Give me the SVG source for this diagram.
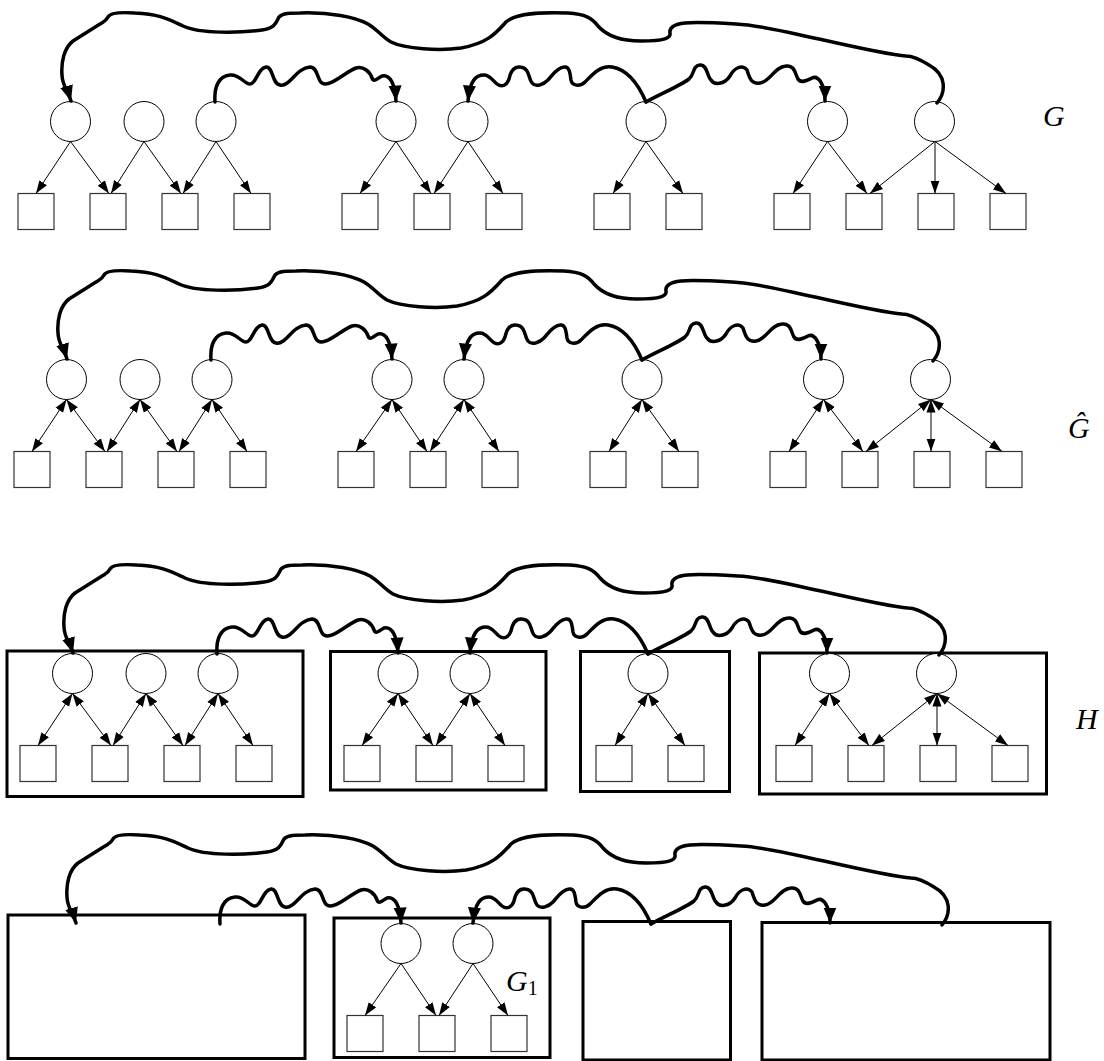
<svg xmlns="http://www.w3.org/2000/svg" xmlns:xlink="http://www.w3.org/1999/xlink" width="1104" height="1061" viewBox="0 0 1104 1061">
<defs>
<style>
.c{fill:#fff;stroke:#000;stroke-width:1}
.s{fill:#fff;stroke:#333;stroke-width:1.2}
.e{fill:none;stroke:#000;stroke-width:1;marker-end:url(#ah)}
.b{fill:none;stroke:#000;stroke-width:1;marker-start:url(#ah);marker-end:url(#ah)}
.w{fill:none;stroke:#000;stroke-width:3.5;stroke-linecap:round;stroke-linejoin:round;marker-end:url(#AH)}
.box{fill:none;stroke:#000;stroke-width:3}
.lbl{font-family:"Liberation Serif",serif;font-style:italic;font-size:30px;fill:#000}
.sub{font-style:normal;font-size:20px}
</style>
<marker id="ah" markerUnits="userSpaceOnUse" viewBox="0 0 14 10" markerWidth="14" markerHeight="10" refX="13" refY="5" orient="auto-start-reverse"><path d="M0,0.5 L13,5 L0,9.5 z" fill="#000"/></marker>
<marker id="AH" markerUnits="userSpaceOnUse" viewBox="0 0 16 14" markerWidth="16" markerHeight="14" refX="15.5" refY="7" orient="auto"><path d="M0,0.5 L15.5,7 L0,13.5 z" fill="#000"/></marker>
<path id="big" class="w" d="M937,103 C946,92 947,75 929,65 C921,60 913,56 906,56 C890,55 850,46 819,39 C790,33 760,25 736,24 C718,23 695,22 685,23 C674,24 669,28 670,33 C671,38 665,41 641,41 C620,41 606,35 598,26 C592,18 585,14 568,13 C540,12 516,13 506,22 C496,33 488,43 461,48 C440,51 405,49 391,42 C382,37 378,30 368,24 C355,17 330,12 300,13 C290,13 283,13 279,17 C276,22 276,28 262,30 C240,33 200,34 183,26 C170,20 160,14 135,13 C120,12 110,13 108,17 C106,21 105,21 100,24 L73,41 C64,48 61,62 62,75 C62,85 68,91 71,101"/>
<path id="w1" class="w" d="M215,102 C214,88 218,76 230,75 C240,74 244,84 250,84 C256,84 258,68 266,67 C273,66 272,84 280,85 C290,87 296,68 310,67 C318,67 317,80 322,83 C330,88 345,72 356,68 C364,66 370,72 372,78 C374,83 378,78 382,76 C390,74 395,84 396,101"/>
<path id="w2" class="w" d="M646,102 C640,88 630,70 612,67 C600,65 592,75 585,82 C580,87 572,86 571,80 C570,72 569,66 564,67 C556,68 552,76 548,80 C544,84 536,88 532,83 C528,78 530,68 520,67 C512,66 510,74 509,79 C507,85 502,88 497,84 C492,80 490,75 484,75 C476,75 470,80 468,101"/>
<path id="w3" class="w" d="M646,102 C660,94 680,86 689,79 C695,74 692,66 700,65 C707,64 707,76 711,80 C714,85 724,85 730,76 C734,68 742,64 747,70 C750,80 752,84 760,83 C770,82 774,67 786,66 C795,65 795,74 798,79 C801,84 808,80 812,78 C818,75 825,84 825,101"/>
</defs>
<rect width="1104" height="1061" fill="#fff"/>

<!-- Panel G -->
<g id="panel-G">
<g id="G-nodes">
<g id="G-c1"><circle class="c" cx="70.5" cy="121.5" r="20"/></g>
<g id="G-c2"><circle class="c" cx="144" cy="121.5" r="20"/></g>
<g id="G-c3"><circle class="c" cx="216" cy="121.5" r="20"/></g>
<g id="G-c4"><circle class="c" cx="396" cy="121.5" r="20"/></g>
<g id="G-c5"><circle class="c" cx="468" cy="121.5" r="20"/></g>
<g id="G-c6"><circle class="c" cx="646" cy="121.5" r="20"/></g>
<g id="G-c7"><circle class="c" cx="827.5" cy="121.5" r="20"/></g>
<g id="G-c8"><circle class="c" cx="934.5" cy="121.5" r="20"/></g>
<g id="G-s1"><rect class="s" x="18" y="193.5" width="36" height="36"/></g>
<g id="G-s2"><rect class="s" x="90" y="193.5" width="36" height="36"/></g>
<g id="G-s3"><rect class="s" x="162" y="193.5" width="36" height="36"/></g>
<g id="G-s4"><rect class="s" x="234" y="193.5" width="36" height="36"/></g>
<g id="G-s5"><rect class="s" x="342" y="193.5" width="36" height="36"/></g>
<g id="G-s6"><rect class="s" x="414" y="193.5" width="36" height="36"/></g>
<g id="G-s7"><rect class="s" x="486" y="193.5" width="36" height="36"/></g>
<g id="G-s8"><rect class="s" x="594" y="193.5" width="36" height="36"/></g>
<g id="G-s9"><rect class="s" x="666" y="193.5" width="36" height="36"/></g>
<g id="G-s10"><rect class="s" x="774" y="193.5" width="36" height="36"/></g>
<g id="G-s11"><rect class="s" x="846" y="193.5" width="36" height="36"/></g>
<g id="G-s12"><rect class="s" x="918" y="193.5" width="36" height="36"/></g>
<g id="G-s13"><rect class="s" x="990" y="193.5" width="36" height="36"/></g>
</g>
<g id="G-connectors">
<line class="e" x1="70.5" y1="141.5" x2="36" y2="193.5"/>
<line class="e" x1="70.5" y1="141.5" x2="109" y2="193.5"/>
<line class="e" x1="144" y1="141.5" x2="111" y2="193.5"/>
<line class="e" x1="144" y1="141.5" x2="181" y2="193.5"/>
<line class="e" x1="216" y1="141.5" x2="183" y2="193.5"/>
<line class="e" x1="216" y1="141.5" x2="251" y2="193.5"/>
<line class="e" x1="396" y1="141.5" x2="360" y2="193.5"/>
<line class="e" x1="396" y1="141.5" x2="431" y2="193.5"/>
<line class="e" x1="468" y1="141.5" x2="434" y2="193.5"/>
<line class="e" x1="468" y1="141.5" x2="503" y2="193.5"/>
<line class="e" x1="646" y1="141.5" x2="613" y2="193.5"/>
<line class="e" x1="646" y1="141.5" x2="683" y2="193.5"/>
<line class="e" x1="827.5" y1="141.5" x2="793" y2="193.5"/>
<line class="e" x1="827.5" y1="141.5" x2="867" y2="193.5"/>
<line class="e" x1="935" y1="141.5" x2="870" y2="193.5"/>
<line class="e" x1="935" y1="141.5" x2="935" y2="193.5"/>
<line class="e" x1="935" y1="141.5" x2="1006" y2="193.5"/>
<use xlink:href="#big"/>
<use xlink:href="#w1"/>
<use xlink:href="#w2"/>
<use xlink:href="#w3"/>
</g>
</g>

<!-- Panel G hat -->
<g id="panel-Ghat" transform="translate(-4,258)">
<g id="Gh-nodes">
<g id="Gh-c1"><circle class="c" cx="70.5" cy="121.5" r="20"/></g>
<g id="Gh-c2"><circle class="c" cx="144" cy="121.5" r="20"/></g>
<g id="Gh-c3"><circle class="c" cx="216" cy="121.5" r="20"/></g>
<g id="Gh-c4"><circle class="c" cx="396" cy="121.5" r="20"/></g>
<g id="Gh-c5"><circle class="c" cx="468" cy="121.5" r="20"/></g>
<g id="Gh-c6"><circle class="c" cx="646" cy="121.5" r="20"/></g>
<g id="Gh-c7"><circle class="c" cx="827.5" cy="121.5" r="20"/></g>
<g id="Gh-c8"><circle class="c" cx="934.5" cy="121.5" r="20"/></g>
<g id="Gh-s1"><rect class="s" x="18" y="193.5" width="36" height="36"/></g>
<g id="Gh-s2"><rect class="s" x="90" y="193.5" width="36" height="36"/></g>
<g id="Gh-s3"><rect class="s" x="162" y="193.5" width="36" height="36"/></g>
<g id="Gh-s4"><rect class="s" x="234" y="193.5" width="36" height="36"/></g>
<g id="Gh-s5"><rect class="s" x="342" y="193.5" width="36" height="36"/></g>
<g id="Gh-s6"><rect class="s" x="414" y="193.5" width="36" height="36"/></g>
<g id="Gh-s7"><rect class="s" x="486" y="193.5" width="36" height="36"/></g>
<g id="Gh-s8"><rect class="s" x="594" y="193.5" width="36" height="36"/></g>
<g id="Gh-s9"><rect class="s" x="666" y="193.5" width="36" height="36"/></g>
<g id="Gh-s10"><rect class="s" x="774" y="193.5" width="36" height="36"/></g>
<g id="Gh-s11"><rect class="s" x="846" y="193.5" width="36" height="36"/></g>
<g id="Gh-s12"><rect class="s" x="918" y="193.5" width="36" height="36"/></g>
<g id="Gh-s13"><rect class="s" x="990" y="193.5" width="36" height="36"/></g>
</g>
<g id="Gh-connectors">
<line class="b" x1="70.5" y1="141.5" x2="36" y2="193.5"/>
<line class="b" x1="70.5" y1="141.5" x2="109" y2="193.5"/>
<line class="b" x1="144" y1="141.5" x2="111" y2="193.5"/>
<line class="b" x1="144" y1="141.5" x2="181" y2="193.5"/>
<line class="b" x1="216" y1="141.5" x2="183" y2="193.5"/>
<line class="b" x1="216" y1="141.5" x2="251" y2="193.5"/>
<line class="b" x1="396" y1="141.5" x2="360" y2="193.5"/>
<line class="b" x1="396" y1="141.5" x2="431" y2="193.5"/>
<line class="b" x1="468" y1="141.5" x2="434" y2="193.5"/>
<line class="b" x1="468" y1="141.5" x2="503" y2="193.5"/>
<line class="b" x1="646" y1="141.5" x2="613" y2="193.5"/>
<line class="b" x1="646" y1="141.5" x2="683" y2="193.5"/>
<line class="b" x1="827.5" y1="141.5" x2="793" y2="193.5"/>
<line class="b" x1="827.5" y1="141.5" x2="867" y2="193.5"/>
<line class="b" x1="935" y1="141.5" x2="870" y2="193.5"/>
<line class="b" x1="935" y1="141.5" x2="935" y2="193.5"/>
<line class="b" x1="935" y1="141.5" x2="1006" y2="193.5"/>
<use xlink:href="#big"/>
<use xlink:href="#w1"/>
<use xlink:href="#w2"/>
<use xlink:href="#w3"/>
</g>
</g>

<!-- Panel H -->
<g id="panel-H-boxes">
<g id="H-box1"><rect class="box" x="7" y="651" width="296" height="145.5"/></g>
<g id="H-box2"><rect class="box" x="330.5" y="651.5" width="215.5" height="138.5"/></g>
<g id="H-box3"><rect class="box" x="580.5" y="651.5" width="149" height="140"/></g>
<g id="H-box4"><rect class="box" x="759.5" y="653" width="287" height="141"/></g>
</g>
<g id="panel-H" transform="translate(2,552)">
<g id="H-nodes">
<g id="H-c1"><circle class="c" cx="70.5" cy="121.5" r="20"/></g>
<g id="H-c2"><circle class="c" cx="144" cy="121.5" r="20"/></g>
<g id="H-c3"><circle class="c" cx="216" cy="121.5" r="20"/></g>
<g id="H-c4"><circle class="c" cx="396" cy="121.5" r="20"/></g>
<g id="H-c5"><circle class="c" cx="468" cy="121.5" r="20"/></g>
<g id="H-c6"><circle class="c" cx="646" cy="121.5" r="20"/></g>
<g id="H-c7"><circle class="c" cx="827.5" cy="121.5" r="20"/></g>
<g id="H-c8"><circle class="c" cx="934.5" cy="121.5" r="20"/></g>
<g id="H-s1"><rect class="s" x="18" y="193.5" width="36" height="36"/></g>
<g id="H-s2"><rect class="s" x="90" y="193.5" width="36" height="36"/></g>
<g id="H-s3"><rect class="s" x="162" y="193.5" width="36" height="36"/></g>
<g id="H-s4"><rect class="s" x="234" y="193.5" width="36" height="36"/></g>
<g id="H-s5"><rect class="s" x="342" y="193.5" width="36" height="36"/></g>
<g id="H-s6"><rect class="s" x="414" y="193.5" width="36" height="36"/></g>
<g id="H-s7"><rect class="s" x="486" y="193.5" width="36" height="36"/></g>
<g id="H-s8"><rect class="s" x="594" y="193.5" width="36" height="36"/></g>
<g id="H-s9"><rect class="s" x="666" y="193.5" width="36" height="36"/></g>
<g id="H-s10"><rect class="s" x="774" y="193.5" width="36" height="36"/></g>
<g id="H-s11"><rect class="s" x="846" y="193.5" width="36" height="36"/></g>
<g id="H-s12"><rect class="s" x="918" y="193.5" width="36" height="36"/></g>
<g id="H-s13"><rect class="s" x="990" y="193.5" width="36" height="36"/></g>
</g>
<g id="H-connectors">
<line class="b" x1="70.5" y1="141.5" x2="36" y2="193.5"/>
<line class="b" x1="70.5" y1="141.5" x2="109" y2="193.5"/>
<line class="b" x1="144" y1="141.5" x2="111" y2="193.5"/>
<line class="b" x1="144" y1="141.5" x2="181" y2="193.5"/>
<line class="b" x1="216" y1="141.5" x2="183" y2="193.5"/>
<line class="b" x1="216" y1="141.5" x2="251" y2="193.5"/>
<line class="b" x1="396" y1="141.5" x2="360" y2="193.5"/>
<line class="b" x1="396" y1="141.5" x2="431" y2="193.5"/>
<line class="b" x1="468" y1="141.5" x2="434" y2="193.5"/>
<line class="b" x1="468" y1="141.5" x2="503" y2="193.5"/>
<line class="b" x1="646" y1="141.5" x2="613" y2="193.5"/>
<line class="b" x1="646" y1="141.5" x2="683" y2="193.5"/>
<line class="b" x1="827.5" y1="141.5" x2="793" y2="193.5"/>
<line class="b" x1="827.5" y1="141.5" x2="867" y2="193.5"/>
<line class="b" x1="935" y1="141.5" x2="870" y2="193.5"/>
<line class="b" x1="935" y1="141.5" x2="935" y2="193.5"/>
<line class="b" x1="935" y1="141.5" x2="1006" y2="193.5"/>
<use xlink:href="#big"/>
<use xlink:href="#w1"/>
<use xlink:href="#w2"/>
<use xlink:href="#w3"/>
</g>
</g>

<!-- Panel 4 -->
<g id="panel-4-boxes">
<g id="P4-boxA"><rect class="box" x="8" y="915" width="297" height="143.5"/></g>
<g id="P4-boxB"><rect class="box" x="334" y="918" width="216" height="139.5"/></g>
<g id="P4-boxC"><rect class="box" x="583" y="921.5" width="147.5" height="138.5"/></g>
<g id="P4-boxD"><rect class="box" x="762" y="922.5" width="288" height="137.5"/></g>
</g>
<g id="panel-4" transform="translate(5,822)">
<g id="P4-nodes">
<g id="P4-c4"><circle class="c" cx="396" cy="121.5" r="20"/></g>
<g id="P4-c5"><circle class="c" cx="468" cy="121.5" r="20"/></g>
<g id="P4-s5"><rect class="s" x="342" y="193.5" width="36" height="36"/></g>
<g id="P4-s6"><rect class="s" x="414" y="193.5" width="36" height="36"/></g>
<g id="P4-s7"><rect class="s" x="486" y="193.5" width="36" height="36"/></g>
</g>
<g id="P4-connectors">
<line class="e" x1="396" y1="141.5" x2="360" y2="193.5"/>
<line class="e" x1="396" y1="141.5" x2="431" y2="193.5"/>
<line class="e" x1="468" y1="141.5" x2="434" y2="193.5"/>
<line class="e" x1="468" y1="141.5" x2="503" y2="193.5"/>
<use xlink:href="#big"/>
<use xlink:href="#w1"/>
<use xlink:href="#w2"/>
<use xlink:href="#w3"/>
</g>
</g>

<g id="labels">
<text class="lbl" x="1043" y="126">G</text>
<text class="lbl" x="1068" y="438">Ĝ</text>
<text class="lbl" x="1076" y="729">H</text>
<text class="lbl" x="506" y="991">G<tspan class="sub" dy="4">1</tspan></text>
</g>
</svg>
